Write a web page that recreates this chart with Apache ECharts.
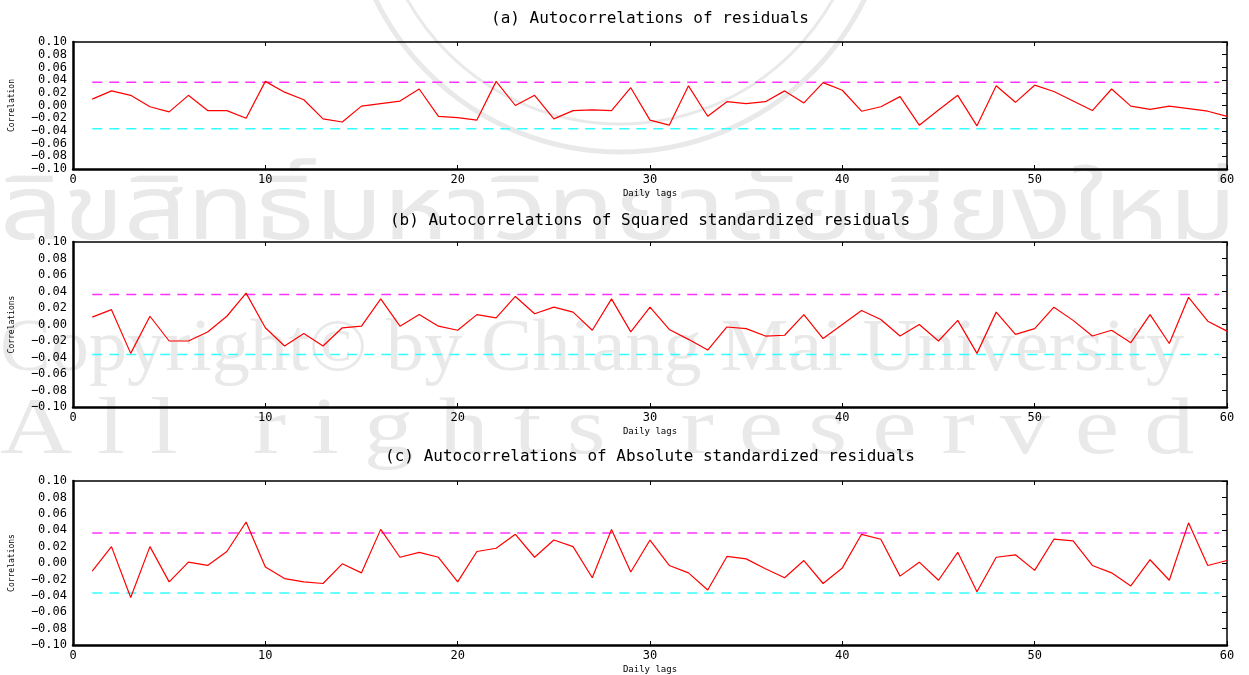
<!DOCTYPE html>
<html>
<head>
<meta charset="utf-8">
<script src="https://cdn.jsdelivr.net/npm/echarts@6/dist/echarts.min.js"></script>
<style>
  html, body { margin: 0; padding: 0; background: #fff; }
  #chart { width: 1249px; height: 675px; }
</style>
</head>
<body>
<div id="chart"></div>
<script>
const lags = [1,2,3,4,5,6,7,8,9,10,11,12,13,14,15,16,17,18,19,20,
  21,22,23,24,25,26,27,28,29,30,31,32,33,34,35,36,37,38,39,40,
  41,42,43,44,45,46,47,48,49,50,51,52,53,54,55,56,57,58,59,60]

// (a) residuals
const acfResid = [0.010,0.023,0.016,-0.002,-0.010,0.016,-0.008,-0.008,-0.020,0.038,
  0.021,0.009,-0.021,-0.026,-0.001,0.003,0.007,0.026,-0.017,-0.019,
  -0.023,0.038,0.000,0.016,-0.021,-0.008,-0.007,-0.008,0.028,-0.023,
  -0.031,0.031,-0.017,0.006,0.003,0.006,0.023,0.004,0.036,0.024,
  -0.009,-0.002,0.014,-0.031,-0.007,0.016,-0.032,0.031,0.005,0.032,
  0.022,0.007,-0.008,0.026,-0.001,-0.006,-0.001,-0.005,-0.009,-0.017]

// (b) squared standardized residuals
const acfSquared = [0.009,0.018,-0.035,0.010,-0.020,-0.020,-0.009,0.010,0.038,-0.004,
  -0.026,-0.011,-0.026,-0.004,-0.002,0.031,-0.002,0.012,-0.002,-0.007,
  0.012,0.008,0.034,0.013,0.021,0.015,-0.007,0.031,-0.009,0.021,
  -0.006,-0.018,-0.031,-0.003,-0.005,-0.014,-0.013,0.012,-0.017,0.000,
  0.017,0.006,-0.014,0.000,-0.020,0.005,-0.035,0.015,-0.012,-0.005,
  0.021,0.005,-0.014,-0.007,-0.022,0.012,-0.023,0.033,0.004,-0.008]

// (c) absolute standardized residuals
const acfAbsolute = [-0.010,0.020,-0.042,0.020,-0.023,0.001,-0.003,0.014,0.050,-0.005,
  -0.019,-0.023,-0.025,-0.001,-0.012,0.041,0.007,0.013,0.007,-0.023,
  0.014,0.018,0.035,0.007,0.028,0.020,-0.018,0.041,-0.011,0.028,
  -0.003,-0.012,-0.033,0.008,0.005,-0.007,-0.018,0.003,-0.025,-0.006,
  0.035,0.029,-0.016,0.001,-0.021,0.013,-0.035,0.007,0.010,-0.009,
  0.029,0.027,-0.003,-0.012,-0.028,0.004,-0.021,0.049,-0.003,0.003]

const band = 0.0365
const bandSpan = [1, 59.6]

const titles = [
  '(a) Autocorrelations of residuals',
  '(b) Autocorrelations of Squared standardized residuals',
  '(c) Autocorrelations of Absolute standardized residuals'
]
const yNames = ['Correlation', 'Correlations', 'Correlations']
const xName = 'Daily lags'
const panelData = [acfResid, acfSquared, acfAbsolute]

// layout
const panels = [
  { top: 42, height: 127, titleY: 19 },
  { top: 242, height: 165, titleY: 221 },
  { top: 481, height: 164, titleY: 457 }
]
const plotLeft = 73
const plotRight = 22

const chart = echarts.init(document.getElementById('chart'))

const tickFont = 'DejaVu Sans Mono, monospace'

function fmtY(v) {
  if (Math.abs(v) < 1e-9) return '0.00'
  return v.toFixed(2).replace('-', '\u2212')
}

const grid = [], xAxis = [], yAxis = [], series = []

panels.forEach((p, i) => {
  grid.push({ left: plotLeft, right: plotRight, top: p.top, height: p.height })

  xAxis.push({
    gridIndex: i, type: 'value', min: 0, max: 60, interval: 10,
    name: xName, nameLocation: 'middle', nameGap: 20,
    nameTextStyle: { fontSize: 9, color: '#000', fontFamily: tickFont },
    axisLine: { onZero: false, lineStyle: { color: '#000', width: 2.5 } },
    axisTick: { inside: true, length: 4, lineStyle: { color: '#000' } },
    axisLabel: { fontSize: 12, color: '#000', fontFamily: tickFont, margin: 5 },
    splitLine: { show: false }
  })
  xAxis.push({
    gridIndex: i, type: 'value', min: 0, max: 60, interval: 10, position: 'top',
    axisLine: { onZero: false, lineStyle: { color: '#000', width: 1.5 } },
    axisTick: { inside: true, length: 4, lineStyle: { color: '#000' } },
    axisLabel: { show: false },
    splitLine: { show: false }
  })
  yAxis.push({
    gridIndex: i, type: 'value', min: -0.1, max: 0.1, interval: 0.02,
    name: yNames[i], nameLocation: 'middle', nameGap: 57,
    nameTextStyle: { fontSize: 8, color: '#000', fontFamily: tickFont },
    axisLine: { show: true, onZero: false, lineStyle: { color: '#000', width: 2.5 } },
    axisTick: { show: false },
    axisLabel: { fontSize: 12, color: '#000', fontFamily: tickFont, margin: 6, formatter: fmtY },
    splitLine: { show: false }
  })
  yAxis.push({
    gridIndex: i, type: 'value', min: -0.1, max: 0.1, interval: 0.02, position: 'right',
    axisLine: { show: true, onZero: false, lineStyle: { color: '#000', width: 1.5 } },
    axisTick: { show: true, inside: true, length: 5, lineStyle: { color: '#000' } },
    axisLabel: { show: false },
    splitLine: { show: false }
  })

  series.push({
    type: 'line', xAxisIndex: i * 2, yAxisIndex: i * 2,
    data: lags.map((l, k) => [l, panelData[i][k]]),
    symbol: 'none', silent: true,
    lineStyle: { color: '#ff0000', width: 1.2 }, z: 3
  })
  series.push({
    type: 'line', xAxisIndex: i * 2, yAxisIndex: i * 2,
    data: bandSpan.map(x => [x, band]),
    symbol: 'none', silent: true,
    lineStyle: { color: '#ff33ff', width: 1.5, type: [10, 7] }, z: 2
  })
  series.push({
    type: 'line', xAxisIndex: i * 2, yAxisIndex: i * 2,
    data: bandSpan.map(x => [x, -band]),
    symbol: 'none', silent: true,
    lineStyle: { color: '#33ffff', width: 1.5, type: [10, 7] }, z: 2
  })
})

const wm = '#e9e9e9'
const graphic = [
  // watermark
  { type: 'circle', z: -10, silent: true, shape: { cx: 620, cy: -120, r: 272 },
    style: { fill: 'none', stroke: wm, lineWidth: 5 } },
  { type: 'circle', z: -10, silent: true, shape: { cx: 620, cy: -120, r: 244 },
    style: { fill: 'none', stroke: wm, lineWidth: 3 } },
  { type: 'text', z: -10, silent: true, x: 0, y: 266, scaleX: 1.23,
    style: { text: 'ลิขสิทธิ์มหาวิทยาลัยเชียงใหม่', fill: wm, fontSize: 90,
      fontFamily: 'Noto Sans Thai, Noto Sans, DejaVu Sans, sans-serif', textVerticalAlign: 'bottom' } },
  { type: 'text', z: -10, silent: true, x: 0, y: 388, scaleX: 1.03,
    style: { text: 'Copyright\u00a9 by Chiang Mai University', fill: wm, fontSize: 74,
      fontFamily: 'Liberation Serif, serif', textVerticalAlign: 'bottom' } },
  { type: 'text', z: -10, silent: true, x: 0, y: 472, scaleX: 1.25,
    style: { text: 'A l l   r i g h t s   r e s e r v e d', fill: wm, fontSize: 80,
      fontFamily: 'Liberation Serif, serif', textVerticalAlign: 'bottom' } }
]

panels.forEach((p, i) => {
  graphic.push({
    type: 'text', x: 650, y: p.titleY,
    style: { text: titles[i], fill: '#000', fontSize: 16, fontFamily: tickFont,
      textAlign: 'center', textVerticalAlign: 'middle' }
  })
})

chart.setOption({
  backgroundColor: '#fff',
  animation: false,
  grid, xAxis, yAxis, series, graphic
})
</script>
</body>
</html>
